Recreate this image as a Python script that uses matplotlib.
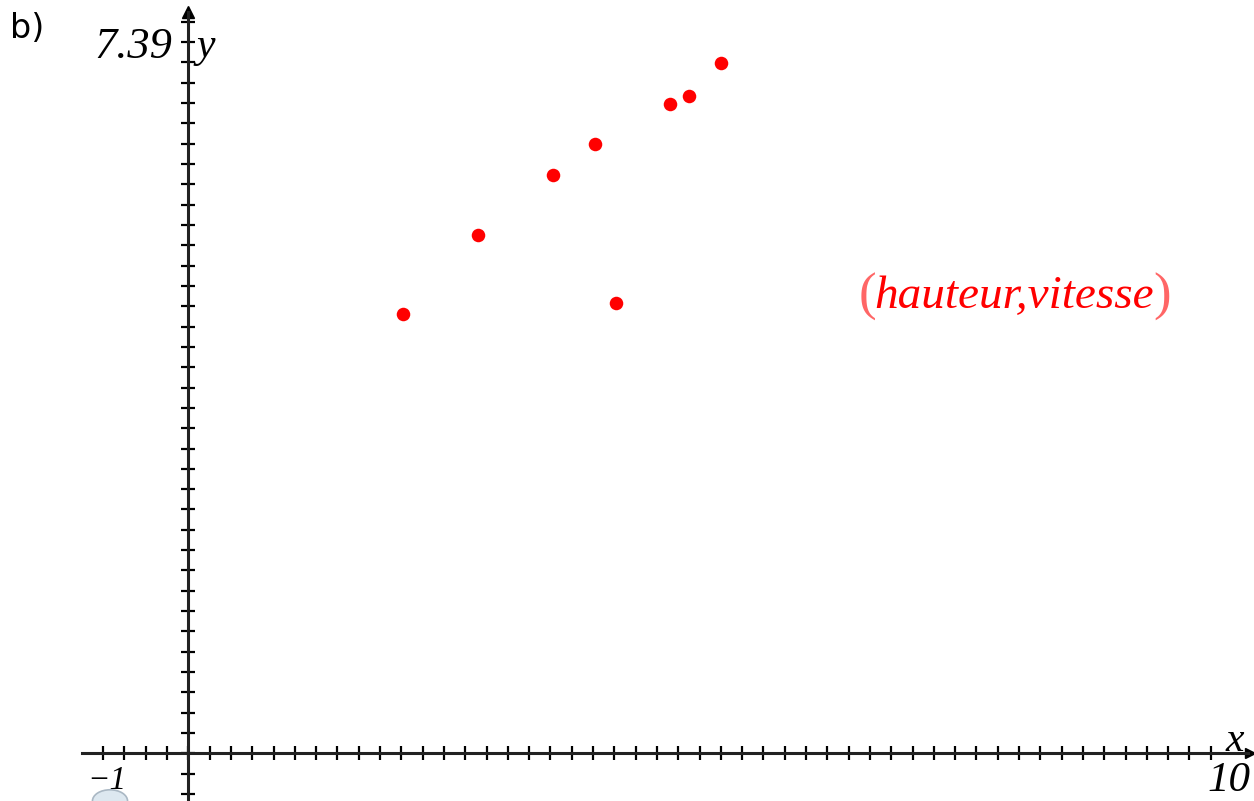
import numpy as np
import matplotlib
matplotlib.use("Agg")
import matplotlib.pyplot as plt
from matplotlib.ticker import FixedLocator
from matplotlib.patches import Circle

# data
hauteur = [2.02, 2.72, 3.42, 3.82, 4.02, 4.52, 4.70, 5.00]
vitesse = [4.32, 5.10, 5.69, 6.00, 4.43, 6.39, 6.47, 6.79]

xmin_label = "\u22121"
xmax_label = "10"
ymax_label = "7.39"
series_label = "hauteur,vitesse"
panel_label = "b)"

W, H = 1254, 801
fig = plt.figure(figsize=(W / 100, H / 100), dpi=100)
ax = fig.add_axes([0, 0, 1, 1])
ax.set_facecolor("white")

# pixel mapping: x=-1 at 81.8 px, 106.5 px/unit ; y=0 at 753.3 px, 101.6 px/unit
x0px, xs = 188.3, 106.5
y0px, ys = 753.3, 101.6
ax.set_xlim(-x0px / xs, (W - x0px) / xs)
ax.set_ylim(-(H - y0px) / ys, y0px / ys)

for s in ["top", "right"]:
    ax.spines[s].set_visible(False)
ax.spines["left"].set_position(("data", 0))
ax.spines["bottom"].set_position(("data", 0))
ax.spines["bottom"].set_bounds(-1, 9.95)
ax.spines["left"].set_bounds(-0.5, 7.3)
for s in ["left", "bottom"]:
    ax.spines[s].set_linewidth(2.2)
    ax.spines[s].set_color("#222222")

ax.xaxis.set_major_locator(FixedLocator(np.round(np.arange(-0.8, 9.61, 0.2), 2)))
ax.yaxis.set_major_locator(FixedLocator(np.round(np.arange(-0.4, 7.21, 0.2), 2)))
ax.tick_params(axis="both", direction="inout", length=10, width=1.6, color="black",
               labelbottom=False, labelleft=False)

# arrows
ax.plot([9.97], [0], marker=">", color="black", markersize=7, clip_on=False)
ax.plot([0], [7.3], marker="^", color="black", markersize=9, clip_on=False)

# points
ax.scatter(hauteur, vitesse, s=95, color="#ff0000", zorder=5, linewidths=0)

serif = ["Liberation Serif", "DejaVu Serif"]
ax.text(-0.15, 6.95, ymax_label, fontsize=32, fontstyle="italic", family=serif,
        ha="right", va="center")
ax.text(0.08, 6.95, "y", fontsize=30, fontstyle="italic", family=serif,
        ha="left", va="center")
ax.text(9.83, 0.12, "x", fontsize=30, fontstyle="italic", family=serif,
        ha="center", va="center")
ax.text(9.97, -0.27, xmax_label, fontsize=31, fontstyle="italic", family=serif,
        ha="right", va="center")
ax.text(-0.76, -0.27, xmin_label, fontsize=24, fontstyle="italic", family=serif,
        ha="center", va="center")

yl = 4.49
ax.text(6.38, yl, "(", fontsize=38, family=serif, color="#ff6666",
        ha="center", va="center")
ax.text(6.44, yl, series_label, fontsize=34, fontstyle="italic", family=serif,
        color="#ff0000", ha="left", va="center")
ax.text(9.14, yl, ")", fontsize=38, family=serif, color="#ff6666",
        ha="center", va="center")

fig.text(10 / W, 1 - 28 / H, panel_label, fontsize=24, family=["DejaVu Sans"],
         ha="left", va="center")

# small UI icon at bottom-left
icon = Circle((110 / W, 0), radius=0.014, transform=fig.transFigure,
              facecolor="#dde8f0", edgecolor="#aab8c4", linewidth=1.2)
fig.add_artist(icon)

fig.savefig("out.png", dpi=100, facecolor="white")
